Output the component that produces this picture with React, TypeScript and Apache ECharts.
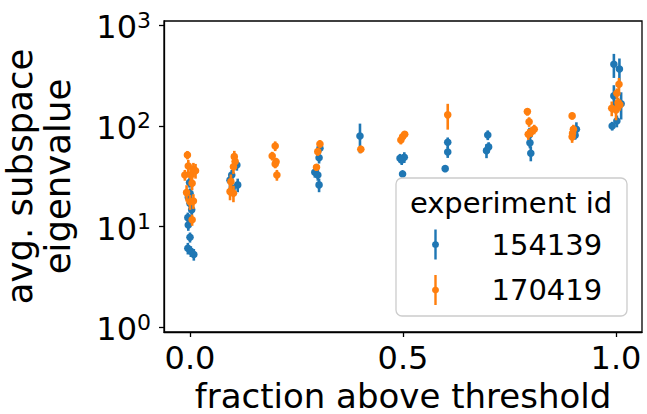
import React, { useEffect, useRef } from "react";
import * as echarts from "echarts";

// experiment 154139 (blue)
const blueX = [-0.001, 0.0, -0.004, 0.0, 0.004, -0.005, -0.004, 0.0, -0.005, 0.002, 0.009,
  0.110, 0.098, 0.094, 0.112, 0.099,
  0.305, 0.303, 0.293, 0.300, 0.303,
  0.399,
  0.493, 0.503, 0.497, 0.499,
  0.605, 0.605, 0.599,
  0.699, 0.696, 0.701,
  0.798, 0.800, 0.797,
  0.907, 0.904,
  0.995, 1.008, 0.995, 1.012, 0.991, 1.002];
const blueY = [27.4, 21.5, 19.6, 17, 14.7, 12.3, 10.4, 7.85, 6.1, 5.7, 5.3,
  41, 32.6, 29, 26, 24,
  60, 48.4, 34.7, 32.6, 26,
  79.6,
  47.8, 48.9, 46, 33.4,
  68.9, 55.2, 37.7,
  81.4, 56.9, 62,
  68, 53.6, 82,
  92.8, 81,
  410, 368, 199, 166, 100, 112];
const blueErr = [3, 2.5, 2, 2, 1.8, 1.5, 1.3, 0.9, 0.8, 0.7, 0.7,
  5, 4, 4, 4, 3,
  6, 6, 4, 4, 4,
  26,
  5, 6, 5, 2,
  8, 7, 2,
  9, 9, 7,
  8, 9, 14,
  16, 8,
  110, 100, 55, 50, 10, 15];

// experiment 170419 (orange)
const orangeX = [-0.006, -0.004, 0.008, -0.012, 0.002, 0.013, 0.005, -0.008, 0.008, 0.0, 0.005,
  0.104, 0.106, 0.102, 0.096, 0.094, 0.102,
  0.200, 0.193, 0.202, 0.200, 0.204,
  0.305, 0.300, 0.297,
  0.401,
  0.495, 0.499, 0.504,
  0.605,
  0.792, 0.796, 0.794, 0.802, 0.808,
  0.897, 0.900, 0.898, 0.897,
  1.007, 1.002, 1.005, 0.990, 1.000, 1.009];
const orangeY = [51.5, 40, 37, 32.6, 32.6, 36, 27, 21.8, 18, 17.7, 11.7,
  49.6, 44.3, 39.4, 28, 22.3, 21.5,
  63.3, 50.4, 44.2, 42, 32.6,
  66.3, 55.6, 38.9,
  58.7,
  72.6, 78.3, 82.8,
  129,
  139, 110, 82.8, 88, 92.8,
  126, 92.8, 84.6, 78,
  260, 211, 171, 150, 144, 162];
const orangeErr = [5, 6, 6, 4, 5, 6, 4, 4, 3, 3, 1.5,
  7, 7, 6, 5, 4, 4,
  7, 5, 4, 4, 4,
  6, 5, 3,
  5,
  7, 7, 6,
  37,
  12, 12, 10, 10, 10,
  10, 10, 10, 10,
  40, 25, 20, 25, 30, 20];

const yTicks = [1, 10, 100, 1000];
const xTicks = [0, 0.5, 1.0];

const BLUE = "#1f77b4";
const ORANGE = "#ff7f0e";
const FONT = "DejaVu Sans";

const legendIcon =
  "path://M-1.2,-15 L1.2,-15 L1.2,-3.288 A3.5,3.5 0 0,1 1.2,3.288 L1.2,15 L-1.2,15 L-1.2,3.288 A3.5,3.5 0 0,1 -1.2,-3.288 Z";

function makeSeries(name: string, xs: number[], ys: number[], errs: number[], color: string) {
  return {
    type: "custom",
    name,
    coordinateSystem: "cartesian2d",
    itemStyle: { color },
    encode: { x: 0, y: 1 },
    data: xs.map((x, i) => [x, ys[i], errs[i]]),
    renderItem: (params: any, api: any) => {
      const x = api.value(0);
      const y = api.value(1);
      const e = api.value(2);
      const p = api.coord([x, y]);
      const top = api.coord([x, y + e]);
      const bot = api.coord([x, Math.max(y - e, 0.01)]);
      return {
        type: "group",
        children: [
          {
            type: "line",
            shape: { x1: p[0], y1: top[1], x2: p[0], y2: bot[1] },
            style: { stroke: color, lineWidth: 2.6 },
          },
          {
            type: "circle",
            shape: { cx: p[0], cy: p[1], r: 3.8 },
            style: { fill: color },
          },
        ],
      };
    },
  };
}

export default function App() {
  const ref = useRef<HTMLDivElement>(null);
  useEffect(() => {
    if (!ref.current) return;
    const chart = echarts.init(ref.current, null, { renderer: "svg" });
    chart.setOption({
      animation: false,
      backgroundColor: "#ffffff",
      textStyle: { fontFamily: FONT },
      grid: {
        left: 164,
        right: 5,
        top: 21,
        bottom: 82,
        show: true,
        containLabel: false,
        outerBoundsMode: "none",
        borderColor: "#000",
        borderWidth: 1.3,
        backgroundColor: "transparent",
      },
      xAxis: {
        type: "value",
        min: -0.061,
        max: 1.061,
        axisLine: { show: true, onZero: false, lineStyle: { color: "#000", width: 1.3 } },
        axisTick: { show: true, customValues: xTicks, length: 5, lineStyle: { color: "#000", width: 1.3 } },
        axisLabel: {
          customValues: xTicks,
          formatter: (v: number) => v.toFixed(1),
          fontSize: 32,
          color: "#000",
          fontFamily: FONT,
          margin: 10,
        },
        splitLine: { show: false },
        name: "fraction above threshold",
        nameLocation: "middle",
        nameGap: 43,
        nameTextStyle: { fontSize: 34, lineHeight: 32, color: "#000", fontFamily: FONT },
      },
      yAxis: {
        type: "log",
        logBase: 10,
        min: 0.9,
        max: 1103,
        axisLine: { show: true, onZero: false, lineStyle: { color: "#000", width: 1.3 } },
        axisTick: { show: true, customValues: yTicks, length: 5, lineStyle: { color: "#000", width: 1.3 } },
        minorTick: { show: false },
        axisLabel: {
          customValues: yTicks,
          formatter: (v: number) => `{b|10}{s|${Math.round(Math.log10(v))}}`,
          margin: 13,
          rich: {
            b: { fontSize: 32, lineHeight: 32, color: "#000", fontFamily: FONT, padding: [4, 0, 0, 0] },
            s: { fontSize: 22, lineHeight: 22, color: "#000", fontFamily: FONT, verticalAlign: "top" },
          },
        },
        splitLine: { show: false },
        name: "avg. subspace\neigenvalue",
        nameLocation: "middle",
        nameRotate: 90,
        nameGap: 88,
        nameTextStyle: { fontSize: 35.5, lineHeight: 38, color: "#000", fontFamily: FONT, align: "center" },
      },
      legend: {
        orient: "vertical",
        left: 432,
        top: 229.5,
        padding: 0,
        itemGap: 15.5,
        itemWidth: 20,
        itemHeight: 30,
        icon: legendIcon,
        data: ["154139", "170419"],
        textStyle: { fontSize: 29, lineHeight: 30, color: "#000", fontFamily: FONT, padding: [0, 0, 0, 41] },
      },
      graphic: [
        {
          type: "rect",
          z: 3,
          shape: { x: 396, y: 178, width: 231, height: 138, r: 6 },
          style: { fill: "rgba(255,255,255,0.8)", stroke: "#cccccc", lineWidth: 1.3 },
        },
        {
          type: "text",
          z: 4,
          x: 511,
          y: 203,
          style: {
            text: "experiment id",
            fontSize: 29,
            fontFamily: FONT,
            fill: "#000",
            align: "center",
            verticalAlign: "middle",
          },
        },
      ],
      series: [
        makeSeries("154139", blueX, blueY, blueErr, BLUE),
        makeSeries("170419", orangeX, orangeY, orangeErr, ORANGE),
      ],
    });
    return () => chart.dispose();
  }, []);
  return (
    <div
      ref={ref}
      style={{ position: "fixed", left: 0, top: 0, width: 647, height: 414 }}
    />
  );
}
